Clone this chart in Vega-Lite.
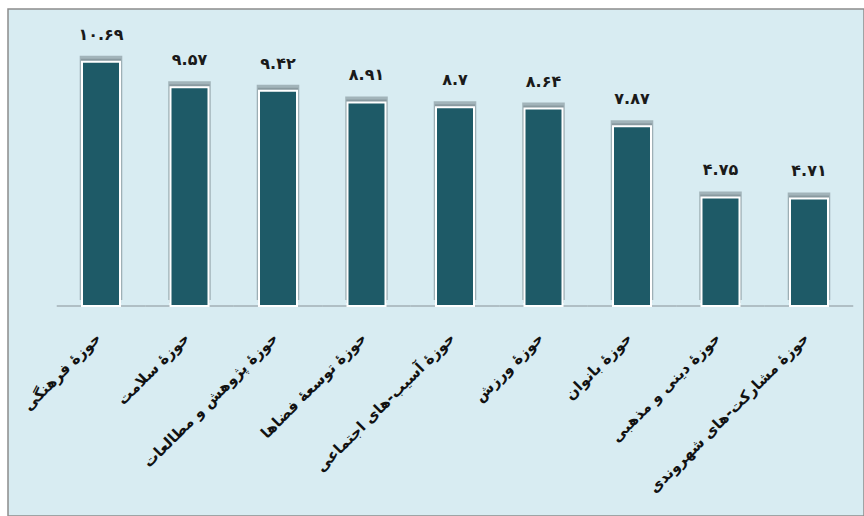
{
  "$schema": "https://vega.github.io/schema/vega-lite/v6.json",
  "width": 856,
  "height": 507,
  "autosize": {"type": "none"},
  "padding": {"left": 8, "top": 9, "right": 0, "bottom": 0},
  "background": "white",
  "view": {"fill": "#d8ecf2", "stroke": "#8c8c8c", "strokeWidth": 1.5},
  "config": {"font": "DejaVu Sans"},
  "data": {
    "values": [
      {"name": "حوزهٔ فرهنگی", "value": 10.69, "label": "۱۰.۶۹"},
      {"name": "حوزهٔ سلامت", "value": 9.57, "label": "۹.۵۷"},
      {"name": "حوزهٔ پژوهش و مطالعات", "value": 9.42, "label": "۹.۴۲"},
      {"name": "حوزهٔ توسعهٔ فضاها", "value": 8.91, "label": "۸.۹۱"},
      {"name": "حوزهٔ آسیب-های اجتماعی", "value": 8.7, "label": "۸.۷"},
      {"name": "حوزهٔ ورزش", "value": 8.64, "label": "۸.۶۴"},
      {"name": "حوزهٔ بانوان", "value": 7.87, "label": "۷.۸۷"},
      {"name": "حوزهٔ دینی و مذهبی", "value": 4.75, "label": "۴.۷۵"},
      {"name": "حوزهٔ مشارکت-های شهروندی", "value": 4.71, "label": "۴.۷۱"}
    ]
  },
  "encoding": {
    "x": {
      "field": "name",
      "type": "nominal",
      "sort": null,
      "axis": null,
      "scale": {"paddingInner": 0.5706, "paddingOuter": 0.6215, "align": 0.6727}
    }
  },
  "layer": [
    {
      "mark": {"type": "bar", "color": "#a3b1b6", "width": {"band": 2.329}},
      "encoding": {
        "y": {"datum": 0.03, "type": "quantitative", "axis": null, "scale": {"domain": [-9.19, 13], "nice": false, "zero": false}},
        "y2": {"datum": -0.03}
      }
    },
    {
      "mark": {"type": "bar", "color": "#3f4d53", "opacity": 0.35, "yOffset": -6, "width": {"band": 1.12}},
      "encoding": {
        "y": {"field": "value", "type": "quantitative"}
      }
    },
    {
      "mark": {"type": "bar", "color": "#5c6a70", "opacity": 0.35, "yOffset": -3, "width": {"band": 1.06}},
      "encoding": {
        "y": {"field": "value", "type": "quantitative"}
      }
    },
    {
      "mark": {"type": "bar", "color": "#1e5a67", "stroke": "white", "strokeWidth": 2},
      "encoding": {
        "y": {"field": "value", "type": "quantitative"}
      }
    },
    {
      "mark": {"type": "text", "dy": -19, "baseline": "bottom", "align": "center", "fontSize": 16, "fontWeight": "bold", "color": "#1a1a1a"},
      "encoding": {
        "y": {"field": "value", "type": "quantitative"},
        "text": {"field": "label"}
      }
    },
    {
      "mark": {"type": "text", "angle": -45, "align": "right", "baseline": "top", "dx": -1, "dy": -10, "fontSize": 15, "fontWeight": "bold", "color": "#111111"},
      "encoding": {
        "y": {"datum": -1.35, "type": "quantitative"},
        "text": {"field": "name"}
      }
    }
  ]
}
